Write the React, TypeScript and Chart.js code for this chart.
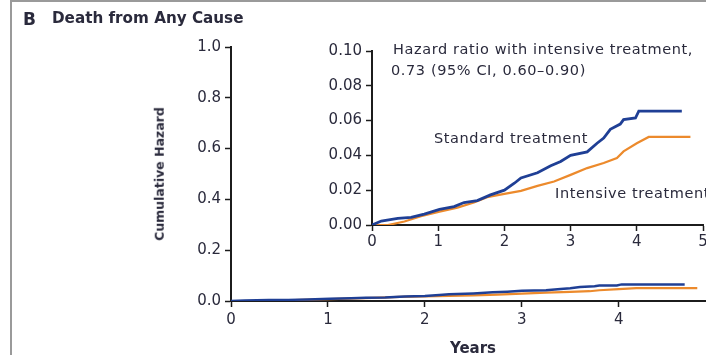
import React, { useEffect, useRef } from "react";
import { Chart, registerables } from "chart.js";

Chart.register(...registerables);

// ---- Data ----
const standardYears = [0, 0.14, 0.39, 0.59, 0.79, 1.02, 1.24, 1.39, 1.59, 1.79, 2.0, 2.15, 2.25, 2.5, 2.7, 2.85, 3.0, 3.25, 3.4, 3.5, 3.6, 3.75, 3.8, 3.98, 4.03, 4.68];
const standardHazard = [0, 0.0023, 0.0038, 0.0044, 0.0063, 0.009, 0.0106, 0.0129, 0.014, 0.0173, 0.02, 0.024, 0.027, 0.03, 0.034, 0.0365, 0.04, 0.042, 0.047, 0.05, 0.055, 0.058, 0.0606, 0.0615, 0.0654, 0.0654];

const intensiveYears = [0, 0.24, 0.49, 0.74, 1.02, 1.29, 1.54, 1.74, 2.0, 2.25, 2.5, 2.75, 3.0, 3.25, 3.5, 3.7, 3.8, 4.0, 4.18, 4.81];
const intensiveHazard = [0, 0, 0.002, 0.005, 0.0077, 0.01, 0.0129, 0.016, 0.0179, 0.0196, 0.0225, 0.025, 0.0288, 0.0327, 0.0356, 0.0385, 0.0423, 0.047, 0.0506, 0.0506];

const seriesNames = ["Standard treatment", "Intensive treatment"];
const mainYRange = [0, 1];
const mainYStep = 0.2;
const mainXRange = [0, 4.9];
const insetYRange = [0, 0.1];
const insetYStep = 0.02;
const insetXRange = [0, 5];
const xStep = 1;

const titleLetter = "B";
const titleText = "Death from Any Cause";
const yTitle = "Cumulative Hazard";
const xTitle = "Years";
const hrLine1 = "Hazard ratio with intensive treatment,";
const hrLine2 = "0.73 (95% CI, 0.60\u20130.90)";

// ---- Styles ----
const BLUE = "#1f3f95";
const ORANGE = "#ec8a2c";
const AXIS = "#1c1c1c";
const TEXT = "#2a2a3c";
const FONT = "'DejaVu Sans', sans-serif";

function points(xs: number[], ys: number[]) {
  return xs.map((x, i) => ({ x, y: ys[i] }));
}

function buildOptions(o: {
  xMin: number; xMax: number; yMin: number; yMax: number; yStep: number; yDigits: number;
  padTop: number; padRight: number; yWidth: number; xHeight: number; fontSize: number; xPad: number;
}): any {
  return {
    responsive: false,
    maintainAspectRatio: false,
    animation: false,
    layout: { padding: { top: o.padTop, right: o.padRight, left: 0, bottom: 0 } },
    plugins: { legend: { display: false }, tooltip: { enabled: false } },
    elements: { point: { radius: 0 }, line: { tension: 0 } },
    scales: {
      x: {
        type: "linear",
        min: o.xMin,
        max: o.xMax,
        afterBuildTicks: (s: any) => {
          s.ticks = s.ticks.filter((t: any) => Number.isInteger(t.value));
        },
        afterFit: (s: any) => {
          s.height = o.xHeight;
          s.paddingLeft = 0;
          s.paddingRight = 0;
        },
        ticks: {
          stepSize: xStep,
          autoSkip: false,
          maxRotation: 0,
          color: TEXT,
          padding: o.xPad,
          font: { family: FONT, size: o.fontSize },
          callback: (v: any) => String(v),
        },
        grid: { drawOnChartArea: false, drawTicks: true, tickLength: 6, tickColor: AXIS, tickWidth: 1.5 },
        border: { display: true, color: AXIS, width: 2 },
      },
      y: {
        type: "linear",
        min: o.yMin,
        max: o.yMax,
        afterFit: (s: any) => {
          s.width = o.yWidth;
          s.paddingTop = 0;
          s.paddingBottom = 0;
        },
        ticks: {
          stepSize: o.yStep,
          color: TEXT,
          padding: 4,
          font: { family: FONT, size: o.fontSize },
          callback: (v: any) => Number(v).toFixed(o.yDigits),
        },
        grid: { drawOnChartArea: false, drawTicks: true, tickLength: 6, tickColor: AXIS, tickWidth: 1.5 },
        border: { display: true, color: AXIS, width: 2 },
      },
    },
  };
}

function datasets(blueWidth: number, orangeWidth: number): any[] {
  return [
    {
      label: seriesNames[0],
      data: points(standardYears, standardHazard),
      borderColor: BLUE,
      borderWidth: blueWidth,
      fill: false,
      pointRadius: 0,
    },
    {
      label: seriesNames[1],
      data: points(intensiveYears, intensiveHazard),
      borderColor: ORANGE,
      borderWidth: orangeWidth,
      fill: false,
      pointRadius: 0,
    },
  ];
}

function Label(props: { text: string; left?: number; top: number; size: number; bold?: boolean; center?: boolean; rotate?: boolean; spacing?: number }) {
  const style: any = {
    position: "absolute",
    top: props.top,
    left: props.left,
    fontFamily: FONT,
    fontSize: props.size,
    fontWeight: props.bold ? "bold" : "normal",
    letterSpacing: props.spacing ? props.spacing + "px" : "normal",
    color: TEXT,
    whiteSpace: "nowrap",
    lineHeight: "1",
  };
  if (props.rotate) {
    style.transform = "translate(-50%, -50%) rotate(-90deg)";
  } else if (props.center) {
    style.transform = "translate(-50%, -50%)";
  } else {
    style.transform = "translate(0, -50%)";
  }
  return <div style={style}>{props.text}</div>;
}

export default function App() {
  const mainRef = useRef<HTMLCanvasElement | null>(null);
  const insetRef = useRef<HTMLCanvasElement | null>(null);

  useEffect(() => {
    const main = new Chart(mainRef.current as HTMLCanvasElement, {
      type: "line",
      data: { datasets: datasets(2.5, 2.2) },
      options: buildOptions({
        xMin: mainXRange[0], xMax: mainXRange[1], yMin: mainYRange[0], yMax: mainYRange[1],
        yStep: mainYStep, yDigits: 1, padTop: 47, padRight: 0, yWidth: 231, xHeight: 54, fontSize: 15, xPad: 4,
      }),
    });
    const inset = new Chart(insetRef.current as HTMLCanvasElement, {
      type: "line",
      data: { datasets: datasets(2.8, 2.2) },
      options: buildOptions({
        xMin: insetXRange[0], xMax: insetXRange[1], yMin: insetYRange[0], yMax: insetYRange[1],
        yStep: insetYStep, yDigits: 2, padTop: 21, padRight: 3, yWidth: 72, xHeight: 35, fontSize: 15, xPad: 2,
      }),
    });
    return () => {
      main.destroy();
      inset.destroy();
    };
  }, []);

  return (
    <div style={{ position: "absolute", left: 0, top: 0, width: 706, height: 355, overflow: "hidden", background: "#fff" }}>
      <div style={{ position: "absolute", left: 10, top: 0, width: 706, height: 360, borderLeft: "2px solid #9a9a9a", borderTop: "2px solid #9a9a9a" }} />
      <canvas ref={mainRef} width={706} height={355} style={{ position: "absolute", left: 0, top: 0, width: 706, height: 355 }} />
      <canvas ref={insetRef} width={406} height={230} style={{ position: "absolute", left: 300, top: 30, width: 406, height: 230 }} />
      <Label text={titleLetter} left={23} top={19} size={17} bold />
      <Label text={titleText} left={52} top={19} size={15.2} bold />
      <Label text={yTitle} left={160} top={174} size={12.5} bold rotate />
      <Label text={xTitle} left={473} top={348} size={15} bold center />
      <Label text={hrLine1} left={393} top={49} size={14.5} spacing={0.6} />
      <Label text={hrLine2} left={391} top={70} size={14.5} spacing={0.6} />
      <Label text={seriesNames[0]} left={434} top={138} size={14.5} spacing={0.6} />
      <Label text={seriesNames[1]} left={555} top={193} size={14.5} spacing={0.6} />
    </div>
  );
}
